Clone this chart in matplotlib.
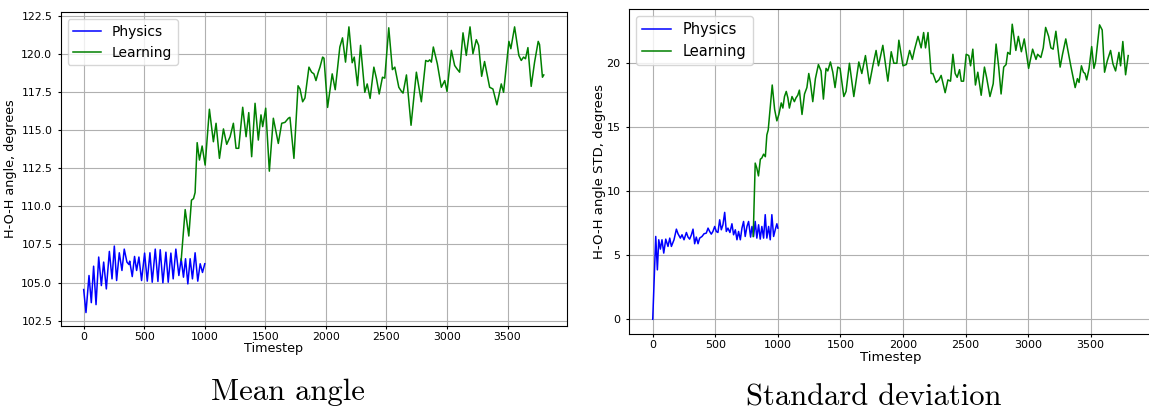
import matplotlib
matplotlib.use("Agg")
import matplotlib.pyplot as plt

# ---- mean angle panel ----
phys_t = [0, 19, 44, 63, 82, 102, 124, 146, 165, 187, 212, 234, 253, 272, 294, 316,
          335, 357, 374, 380, 401, 420, 437, 456, 478, 503, 525, 547, 566, 591, 613,
          632, 654, 679, 698, 720, 739, 761, 786, 805, 824, 841, 860, 879, 898, 920,
          942, 962, 981, 1000]
phys_mean = [104.54, 103.03, 105.46, 103.68, 106.07, 103.55, 106.67, 104.8, 106.34,
             104.58, 107.04, 105.24, 107.39, 105.13, 106.95, 105.79, 107.19, 106.34,
             106.18, 106.4, 105.39, 106.71, 105.79, 106.67, 105.13, 106.93, 105.09,
             106.95, 105.02, 107.19, 105.07, 107.15, 104.98, 106.99, 105.02, 106.93,
             105.24, 107.19, 105.46, 106.56, 105.35, 106.56, 104.91, 106.56, 105.24,
             106.95, 105.09, 106.23, 105.66, 106.23]

learn_t = [805, 838, 868, 890, 907, 920, 937, 956, 978, 1003, 1038, 1071, 1093, 1121,
           1154, 1181, 1209, 1236, 1258, 1280, 1313, 1341, 1363, 1387, 1415, 1442,
           1464, 1478, 1503, 1533, 1566, 1607, 1635, 1662, 1690, 1703, 1736, 1770,
           1786, 1808, 1827, 1860, 1882, 1901, 1918, 1937, 1951, 1973, 1984, 2014,
           2052, 2077, 2115, 2137, 2162, 2190, 2217, 2234, 2261, 2286, 2321, 2341,
           2365, 2396, 2418, 2440, 2467, 2486, 2519, 2549, 2569, 2602, 2624, 2637,
           2665, 2703, 2747, 2788, 2824, 2843, 2857, 2871, 2887, 2920, 2953, 2981,
           3000, 3036, 3063, 3082, 3104, 3132, 3159, 3190, 3214, 3242, 3261, 3286,
           3310, 3352, 3379, 3412, 3448, 3467, 3511, 3527, 3558, 3593, 3613, 3632,
           3648, 3668, 3695, 3723, 3753, 3764, 3788, 3799]
learn_mean = [106.45, 109.78, 108.05, 110.4, 110.5, 110.9, 114.17, 113.03, 113.95,
              112.7, 116.36, 114.23, 115.44, 113.14, 115.07, 114.06, 114.56, 115.44,
              113.8, 113.8, 116.49, 114.56, 116.14, 113.25, 116.75, 114.34, 115.99,
              115.22, 116.43, 112.3, 115.77, 114.12, 115.44, 115.5, 115.77, 115.83,
              113.14, 117.9, 117.69, 116.85, 117.1, 119.12, 118.79, 118.68, 118.24,
              118.79, 119.12, 119.78, 119.71, 116.48, 118.68, 117.64, 120.44, 121.04,
              119.45, 121.76, 119.41, 119.78, 117.91, 120.55, 117.47, 118.02, 117.07,
              119.12, 118.35, 117.36, 118.46, 118.4, 121.7, 118.96, 119.12, 117.8,
              117.53, 117.42, 118.61, 115.31, 118.79, 116.85, 119.56, 119.49, 119.6,
              119.45, 120.44, 119.34, 117.8, 118.24, 117.53, 120.22, 119.23, 119.01,
              118.79, 121.37, 119.89, 121.76, 120.0, 120.92, 120.55, 118.52, 119.49,
              117.8, 117.69, 116.65, 118.02, 117.47, 120.81, 120.33, 121.76, 119.89,
              119.56, 119.78, 119.67, 120.4, 117.86, 119.45, 120.81, 120.6, 118.46,
              118.61]

# ---- standard deviation panel ----
phys_t2 = [0, 24, 37, 48, 61, 74, 88, 104, 122, 136, 149, 170, 189, 202, 221, 234,
           250, 269, 282, 295, 309, 322, 335, 348, 362, 375, 394, 410, 428, 442, 455,
           468, 481, 495, 508, 521, 535, 548, 561, 575, 588, 601, 617, 633, 646, 660,
           673, 686, 700, 713, 726, 739, 753, 766, 782, 793, 806, 819, 832, 846, 859,
           872, 886, 899, 912, 926, 939, 952, 966, 979, 992, 1000]
phys_std = [0.0, 6.47, 3.86, 6.21, 5.48, 6.21, 5.17, 6.26, 5.69, 6.34, 5.69, 6.21,
            7.04, 6.68, 6.34, 6.6, 6.21, 6.78, 6.42, 6.26, 6.6, 7.04, 5.9, 6.42, 5.9,
            6.34, 6.47, 6.68, 6.73, 7.12, 6.86, 6.65, 6.86, 7.25, 6.86, 6.78, 7.77,
            6.99, 7.38, 8.35, 6.86, 7.12, 6.78, 7.46, 6.6, 6.99, 6.21, 6.86, 6.21,
            7.12, 7.64, 6.47, 7.25, 7.64, 6.42, 7.25, 6.47, 7.64, 6.34, 7.38, 6.26,
            7.25, 6.34, 8.17, 6.34, 7.25, 6.21, 8.17, 6.47, 6.99, 7.46, 7.12]

learn_t2 = [803, 819, 832, 845, 860, 872, 886, 900, 912, 923, 939, 955, 974, 992,
            1008, 1027, 1040, 1053, 1067, 1080, 1092, 1113, 1132, 1145, 1159, 1172,
            1193, 1213, 1232, 1247, 1260, 1279, 1300, 1324, 1345, 1364, 1385, 1399,
            1420, 1439, 1457, 1479, 1497, 1527, 1545, 1572, 1607, 1647, 1671, 1700,
            1732, 1759, 1785, 1804, 1839, 1879, 1906, 1927, 1951, 1967, 2000, 2027,
            2053, 2075, 2093, 2120, 2145, 2165, 2180, 2200, 2225, 2239, 2265, 2287,
            2305, 2319, 2337, 2359, 2380, 2399, 2417, 2433, 2452, 2466, 2484, 2505,
            2526, 2540, 2558, 2579, 2598, 2625, 2651, 2668, 2695, 2721, 2744, 2765,
            2784, 2805, 2824, 2837, 2856, 2873, 2902, 2922, 2946, 2969, 3004, 3036,
            3063, 3076, 3102, 3121, 3140, 3164, 3182, 3200, 3222, 3256, 3275, 3301,
            3341, 3376, 3394, 3407, 3426, 3442, 3455, 3468, 3487, 3508, 3526, 3539,
            3571, 3592, 3611, 3633, 3659, 3678, 3699, 3726, 3739, 3757, 3779, 3800]
learn_std = [6.47, 12.2, 11.8, 11.2, 12.5, 12.6, 12.9, 12.7, 14.4, 14.8, 16.6, 18.3,
             16.4, 15.5, 16.0, 16.9, 16.5, 17.4, 17.8, 17.3, 16.5, 17.4, 17.0, 17.3,
             17.5, 17.9, 16.0, 17.6, 18.1, 19.2, 18.5, 17.0, 18.8, 19.9, 19.4, 17.2,
             19.6, 19.4, 20.1, 19.3, 18.1, 19.7, 19.6, 17.4, 17.8, 20.0, 17.4, 20.1,
             19.2, 20.6, 18.4, 19.8, 21.0, 19.8, 21.4, 18.6, 20.9, 20.0, 20.0, 21.8,
             19.8, 19.9, 21.0, 20.3, 21.1, 22.1, 21.2, 22.4, 21.2, 22.4, 19.2, 19.2,
             18.5, 18.7, 19.05, 18.45, 17.7, 18.7, 18.6, 20.7, 19.2, 18.9, 19.5, 18.6,
             18.6, 20.7, 20.6, 19.8, 21.1, 18.3, 19.3, 17.5, 19.7, 18.9, 17.4, 18.4,
             21.5, 19.7, 17.6, 19.7, 19.9, 20.85, 20.7, 23.05, 21.0, 22.1, 20.9, 21.9,
             19.6, 21.1, 20.3, 20.7, 20.45, 21.2, 22.8, 22.1, 21.2, 21.1, 22.5, 19.7,
             20.7, 21.9, 19.8, 18.1, 18.8, 18.5, 19.8, 19.3, 19.2, 18.7, 19.6, 21.3,
             19.6, 20.1, 23.0, 22.6, 19.3, 20.2, 21.0, 19.95, 19.4, 20.85, 19.8, 21.7,
             19.1, 20.6]

fig = plt.figure(figsize=(11.49, 4.08), dpi=100)

ax1 = fig.add_axes([0.0528, 0.201, 0.4406, 0.769])
ax1.plot(phys_t, phys_mean, color="blue", lw=1.1, label="Physics")
ax1.plot(learn_t, learn_mean, color="green", lw=1.1, label="Learning")
ax1.set_xlim(-190, 3990)
ax1.set_ylim(102.15, 122.72)
ax1.set_yticks([102.5, 105.0, 107.5, 110.0, 112.5, 115.0, 117.5, 120.0, 122.5])
ax1.set_xticks([0, 500, 1000, 1500, 2000, 2500, 3000, 3500])
ax1.grid(True)
ax1.tick_params(labelsize=7.8, length=2.5)
ax1.tick_params(axis="x", pad=1.8)
ax1.set_xlabel("Timestep", fontsize=9.2, va="top")
ax1.xaxis.set_label_coords(0.421, -0.051)
ax1.set_ylabel("H-O-H angle, degrees", fontsize=9.2)
ax1.yaxis.set_label_coords(-0.086, 0.5)
ax1.legend(loc="upper left", fontsize=10)

ax2 = fig.add_axes([0.5474, 0.1814, 0.4552, 0.7966])
ax2.plot(phys_t2, phys_std, color="blue", lw=1.1, label="Physics")
ax2.plot(learn_t2, learn_std, color="green", lw=1.1, label="Learning")
ax2.set_xlim(-190, 3990)
ax2.set_ylim(-1.15, 24.24)
ax2.set_xticks([0, 500, 1000, 1500, 2000, 2500, 3000, 3500])
ax2.set_yticks([0, 5, 10, 15, 20])
ax2.grid(True)
ax2.tick_params(labelsize=8, length=2.5)
ax2.tick_params(axis="x", pad=1.8)
ax2.set_xlabel("Timestep", fontsize=9.5, va="top")
ax2.xaxis.set_label_coords(0.5, -0.052)
ax2.set_ylabel("H-O-H angle STD, degrees", fontsize=9.5)
ax2.yaxis.set_label_coords(-0.044, 0.5)
ax2.legend(loc="upper left", fontsize=10.5)

fig.text(0.2507, 0.0196, "Mean angle", fontsize=22, family="cmr10",
         ha="center", va="baseline")
fig.text(0.760, 0.006, "Standard deviation", fontsize=22, family="cmr10",
         ha="center", va="baseline")

fig.savefig("out.png", dpi=100)
